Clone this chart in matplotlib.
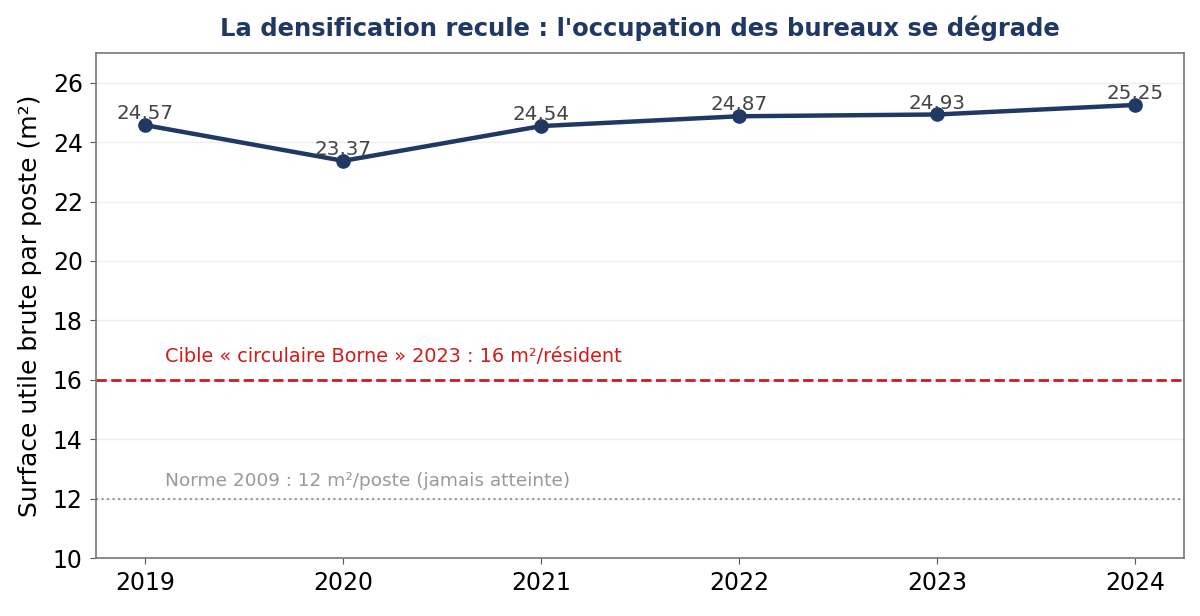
import matplotlib
matplotlib.use('Agg')
import matplotlib.pyplot as plt

plt.rcParams['font.family'] = ['DejaVu Sans']

# data
years = [2019, 2020, 2021, 2022, 2023, 2024]
surface = [24.57, 23.37, 24.54, 24.87, 24.93, 25.25]
labels = ['24,57', '23,37', '24,54', '24,87', '24,93', '25,25']
cible = 16
norme = 12

navy = '#1f3864'

fig, ax = plt.subplots(figsize=(12, 6.16), dpi=100)
fig.subplots_adjust(left=0.08, right=0.987, top=0.914, bottom=0.094)

ax.plot(years, surface, color=navy, linewidth=3.2, marker='o', markersize=9.5, zorder=3)
for x, y, lab in zip(years, surface, labels):
    ax.text(x, y + 0.2, lab, ha='center', va='baseline', fontsize=14.3, color='#444444')

ax.axhline(cible, color='#d11a1a', linestyle='--', linewidth=2)
ax.text(2019.1, cible + 0.45, "Cible « circulaire Borne » 2023 : 16 m²/résident",
        color='#d11a1a', fontsize=13.9, va='bottom')
ax.axhline(norme, color='#999999', linestyle=':', linewidth=1.5)
ax.text(2019.1, norme + 0.3, "Norme 2009 : 12 m²/poste (jamais atteinte)",
        color='#999999', fontsize=13.3, va='bottom')

ax.set_ylim(10, 27)
ax.set_yticks(range(10, 27, 2))
ax.set_xticks(years)
ax.tick_params(labelsize=17, color='#555555', length=4.5, pad=5)
ax.set_ylabel('Surface utile brute par poste (m²)', fontsize=18, labelpad=8)
ax.set_title("La densification recule : l'occupation des bureaux se dégrade",
             fontsize=17.5, fontweight='bold', color=navy, pad=12)

ax.grid(axis='y', color='#eeeeee', linewidth=1)
ax.set_axisbelow(True)
for s in ax.spines.values():
    s.set_color('#777777')
    s.set_linewidth(1.2)

fig.savefig('out.png')
